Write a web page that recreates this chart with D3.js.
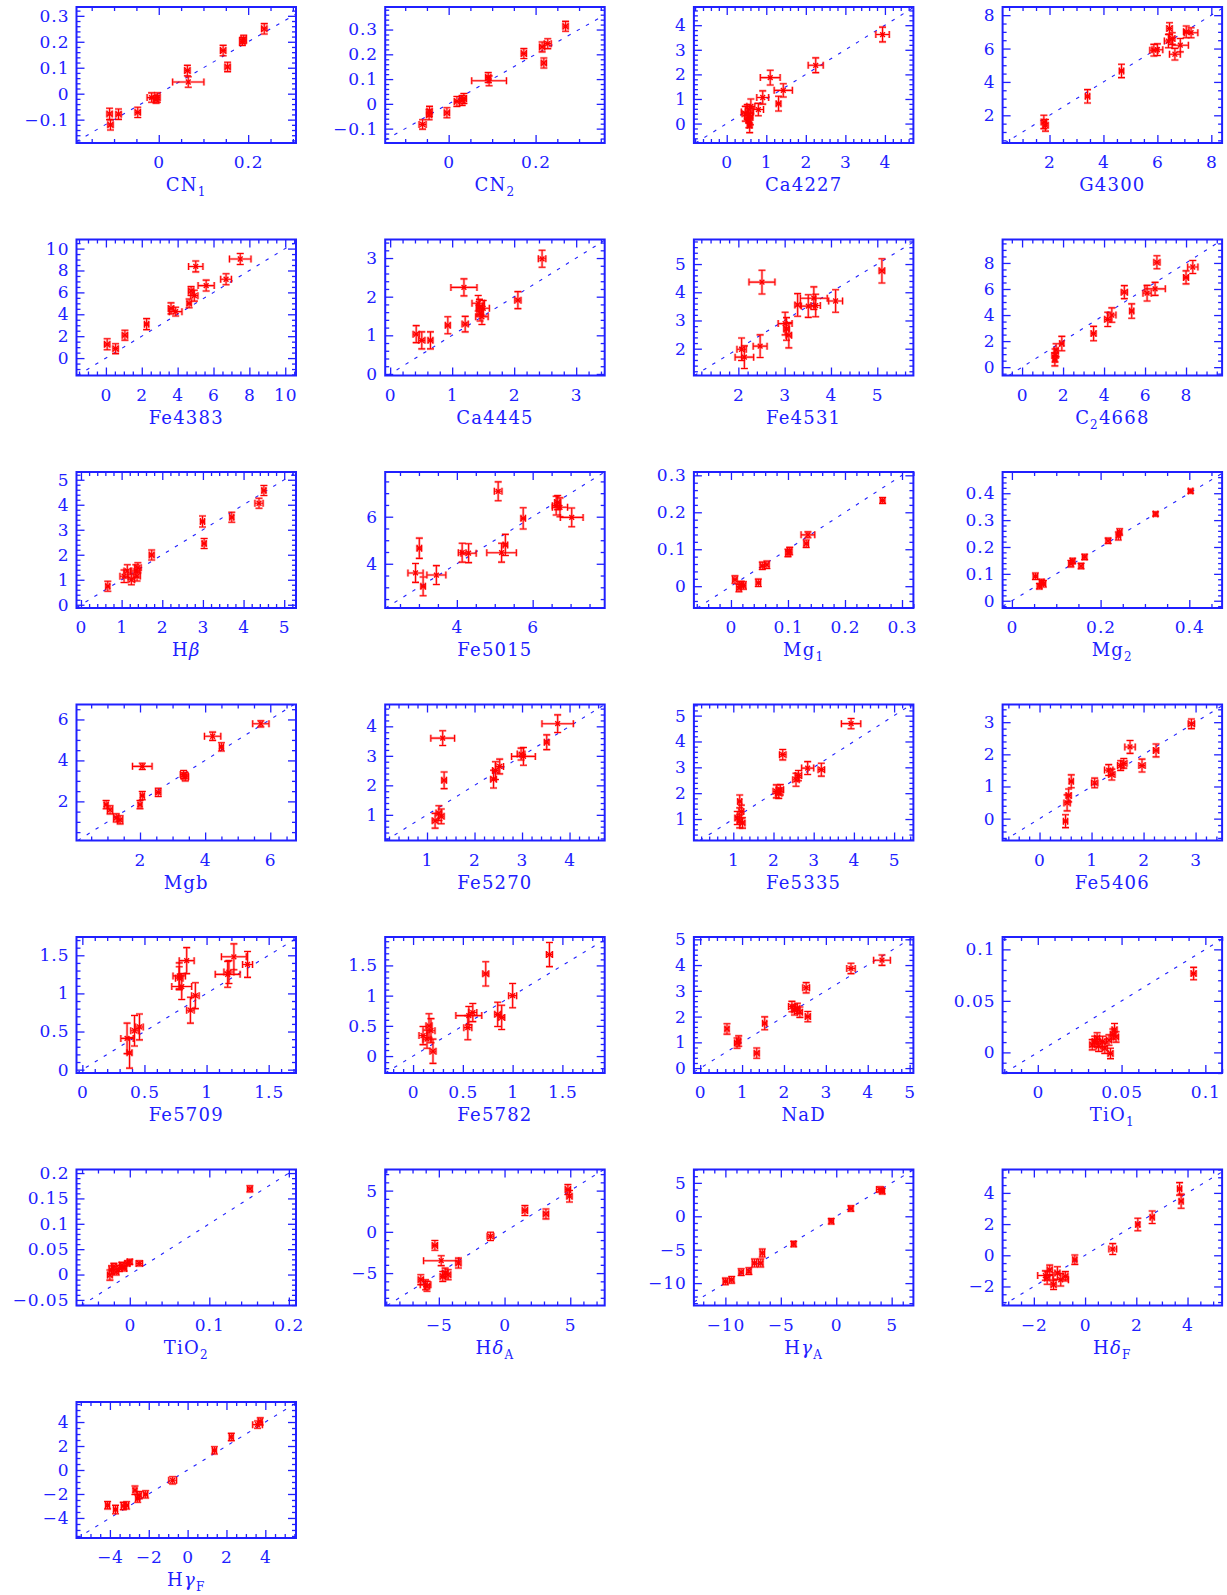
<!DOCTYPE html>
<html><head><meta charset="utf-8">
<script src="https://cdn.jsdelivr.net/npm/d3@7"></script>
<style>body{margin:0;background:#fff} svg{display:block}</style>
</head><body><svg id="c" width="1227" height="1595"></svg>
<script>
// ---- data: each point is [x, y, xerr, yerr] ----
const CN1 = [[-0.110,-0.078,0.006,0.022],[-0.108,-0.120,0.006,0.02],[-0.090,-0.079,0.006,0.02],[-0.047,-0.072,0.006,0.02],[-0.016,-0.015,0.01,0.018],[-0.003,-0.015,0.006,0.018],[-0.006,-0.022,0.006,0.015],[0.064,0.089,0.006,0.02],[0.066,0.045,0.035,0.02],[0.144,0.166,0.006,0.02],[0.154,0.103,0.006,0.018],[0.187,0.201,0.006,0.015],[0.190,0.210,0.006,0.015],[0.236,0.250,0.006,0.02]];
const CN2 = [[-0.060,-0.083,0.008,0.019],[-0.045,-0.044,0.006,0.02],[-0.044,-0.030,0.006,0.02],[-0.004,-0.036,0.006,0.02],[0.019,0.010,0.006,0.02],[0.031,0.014,0.006,0.02],[0.035,0.022,0.006,0.02],[0.091,0.106,0.006,0.02],[0.093,0.093,0.04,0.02],[0.173,0.203,0.006,0.02],[0.215,0.230,0.006,0.02],[0.219,0.165,0.006,0.02],[0.228,0.243,0.008,0.02],[0.269,0.313,0.006,0.02]];
const Ca4227 = [[3.94,3.62,0.17,0.3],[2.25,2.37,0.19,0.3],[1.10,1.87,0.25,0.3],[1.43,1.35,0.23,0.27],[1.31,0.81,0.06,0.3],[0.91,1.06,0.15,0.27],[0.80,0.57,0.13,0.25],[0.61,0.70,0.1,0.3],[0.52,0.47,0.15,0.3],[0.55,0.33,0.1,0.3],[0.56,0.13,0.06,0.3],[0.58,-0.07,0.06,0.3],[0.60,0.25,0.06,0.3],[0.47,0.40,0.08,0.3]];
const G4300 = [[1.79,1.60,0.1,0.4],[1.85,1.40,0.1,0.35],[3.41,3.14,0.08,0.4],[4.67,4.66,0.08,0.4],[5.87,5.90,0.15,0.35],[6.00,5.93,0.2,0.35],[6.45,7.20,0.1,0.35],[6.41,6.45,0.15,0.4],[6.55,6.60,0.1,0.35],[6.65,5.66,0.2,0.35],[6.85,6.20,0.3,0.4],[7.07,7.00,0.1,0.35],[7.25,6.95,0.25,0.3]];
const Fe4383 = [[0.07,1.26,0.15,0.5],[0.54,0.86,0.15,0.45],[1.06,2.09,0.15,0.45],[2.27,3.10,0.12,0.5],[3.63,4.54,0.15,0.5],[3.89,4.24,0.35,0.4],[4.64,5.00,0.12,0.4],[4.75,6.13,0.15,0.4],[4.93,5.70,0.2,0.5],[5.01,8.37,0.4,0.5],[5.59,6.62,0.45,0.5],[6.70,7.20,0.3,0.5],[7.49,9.05,0.6,0.5]];
const Ca4445 = [[0.42,1.03,0.05,0.22],[0.51,0.87,0.05,0.22],[0.65,0.87,0.04,0.22],[0.93,1.26,0.04,0.22],[1.21,1.29,0.05,0.2],[1.19,2.24,0.21,0.22],[1.42,1.83,0.1,0.2],[1.44,1.73,0.05,0.2],[1.45,1.57,0.05,0.2],[1.48,1.48,0.1,0.2],[1.50,1.70,0.1,0.2],[2.06,1.91,0.05,0.22],[2.45,2.98,0.06,0.22]];
const Fe4531 = [[2.51,4.36,0.28,0.42],[2.07,1.98,0.1,0.4],[2.13,1.70,0.2,0.4],[2.47,2.09,0.15,0.4],[3.01,2.89,0.15,0.4],[3.04,2.70,0.06,0.4],[3.09,2.48,0.06,0.45],[3.28,3.55,0.06,0.4],[3.51,3.51,0.15,0.4],[3.63,3.79,0.29,0.4],[3.67,3.53,0.1,0.4],[4.10,3.69,0.15,0.4],[5.10,4.76,0.06,0.43]];
const C24668 = [[1.61,0.90,0.15,0.5],[1.66,1.30,0.1,0.5],[1.60,0.60,0.1,0.5],[1.94,1.81,0.1,0.55],[3.49,2.58,0.12,0.55],[4.18,3.67,0.15,0.55],[4.38,4.00,0.2,0.55],[4.99,5.76,0.15,0.5],[5.35,4.31,0.1,0.55],[6.10,5.68,0.2,0.6],[6.49,6.01,0.5,0.5],[6.58,8.05,0.15,0.5],[8.00,6.89,0.12,0.5],[8.33,7.69,0.25,0.5]];
const Hbeta = [[0.66,0.74,0.05,0.2],[1.06,1.14,0.1,0.25],[1.14,1.35,0.08,0.25],[1.24,1.00,0.08,0.2],[1.35,1.35,0.1,0.25],[1.40,1.48,0.08,0.2],[1.38,1.15,0.08,0.2],[1.74,1.99,0.06,0.2],[2.99,3.33,0.05,0.22],[3.03,2.45,0.05,0.2],[3.71,3.50,0.05,0.2],[4.38,4.06,0.1,0.2],[4.50,4.57,0.05,0.2]];
const Fe5015 = [[3.01,4.66,0.06,0.43],[2.91,3.61,0.2,0.4],[3.11,3.04,0.06,0.4],[3.46,3.52,0.25,0.4],[4.14,4.47,0.1,0.4],[4.31,4.45,0.2,0.4],[5.09,7.08,0.1,0.4],[5.18,4.47,0.39,0.4],[5.28,4.80,0.06,0.45],[5.75,5.93,0.06,0.45],[6.62,6.47,0.1,0.4],[6.72,6.40,0.2,0.4],[7.03,5.97,0.3,0.4],[6.66,6.60,0.08,0.3]];
const Mg1 = [[0.007,0.018,0.004,0.01],[0.014,-0.005,0.004,0.01],[0.022,0.002,0.004,0.01],[0.018,0.005,0.004,0.008],[0.048,0.009,0.004,0.01],[0.055,0.055,0.004,0.01],[0.063,0.058,0.004,0.01],[0.103,0.095,0.004,0.01],[0.100,0.090,0.004,0.01],[0.132,0.115,0.004,0.01],[0.135,0.139,0.012,0.008],[0.266,0.232,0.004,0.008]];
const Mg2 = [[0.053,0.091,0.005,0.012],[0.062,0.054,0.005,0.01],[0.071,0.063,0.005,0.012],[0.067,0.070,0.005,0.01],[0.133,0.138,0.005,0.012],[0.137,0.148,0.005,0.01],[0.156,0.129,0.005,0.01],[0.164,0.163,0.005,0.01],[0.217,0.223,0.005,0.01],[0.240,0.241,0.005,0.015],[0.243,0.256,0.005,0.012],[0.324,0.323,0.005,0.008],[0.403,0.408,0.005,0.008]];
const Mgb = [[0.96,1.84,0.06,0.2],[1.08,1.59,0.08,0.2],[1.27,1.19,0.08,0.2],[1.39,1.10,0.08,0.2],[2.00,1.84,0.06,0.2],[2.07,2.28,0.06,0.2],[2.07,3.71,0.3,0.15],[2.56,2.44,0.08,0.2],[3.34,3.31,0.1,0.2],[3.39,3.20,0.1,0.2],[4.23,5.18,0.25,0.2],[4.50,4.66,0.06,0.2],[5.71,5.79,0.25,0.15]];
const Fe5270 = [[1.17,0.80,0.06,0.25],[1.25,1.06,0.06,0.25],[1.30,0.95,0.06,0.25],[1.33,3.60,0.25,0.25],[1.36,2.17,0.05,0.28],[2.40,2.21,0.06,0.3],[2.44,2.50,0.06,0.3],[2.53,2.64,0.08,0.25],[3.03,2.98,0.25,0.3],[2.98,3.06,0.08,0.2],[3.52,3.46,0.05,0.25],[3.75,4.09,0.33,0.3]];
const Fe5335 = [[1.10,1.04,0.06,0.25],[1.16,0.91,0.06,0.25],[1.20,1.29,0.06,0.25],[1.16,1.68,0.05,0.25],[1.23,0.85,0.06,0.2],[2.07,2.07,0.08,0.25],[2.17,2.13,0.08,0.2],[2.13,2.00,0.08,0.2],[2.23,3.49,0.08,0.2],[2.56,2.52,0.08,0.25],[2.62,2.68,0.08,0.2],[2.85,2.97,0.15,0.25],[3.19,2.91,0.08,0.25],[3.93,4.69,0.24,0.2]];
const Fe5406 = [[0.50,-0.08,0.04,0.2],[0.53,0.49,0.06,0.25],[0.56,0.72,0.05,0.2],[0.61,1.16,0.04,0.2],[1.06,1.11,0.06,0.15],[1.33,1.51,0.08,0.17],[1.39,1.37,0.06,0.17],[1.56,1.65,0.06,0.15],[1.62,1.72,0.06,0.15],[1.74,2.23,0.1,0.2],[1.97,1.65,0.06,0.2],[2.24,2.12,0.05,0.2],[2.92,2.95,0.06,0.15]];
const Fe5709 = [[0.36,0.41,0.05,0.2],[0.38,0.22,0.02,0.2],[0.42,0.51,0.03,0.2],[0.46,0.56,0.03,0.17],[0.78,1.23,0.05,0.17],[0.80,1.09,0.08,0.17],[0.78,1.20,0.03,0.15],[0.84,1.43,0.06,0.17],[0.87,0.78,0.03,0.17],[0.91,0.97,0.03,0.17],[1.17,1.25,0.1,0.17],[1.18,1.28,0.04,0.15],[1.22,1.48,0.1,0.17],[1.33,1.38,0.04,0.17]];
const Fe5782 = [[0.10,0.34,0.04,0.15],[0.14,0.28,0.04,0.15],[0.18,0.42,0.04,0.2],[0.20,0.08,0.03,0.2],[0.16,0.50,0.03,0.2],[0.55,0.47,0.04,0.2],[0.56,0.67,0.13,0.15],[0.60,0.72,0.04,0.15],[0.73,1.36,0.03,0.2],[0.85,0.69,0.03,0.2],[0.89,0.64,0.03,0.2],[1.00,1.00,0.04,0.2],[1.37,1.68,0.03,0.2]];
const NaD = [[0.64,1.52,0.05,0.2],[0.88,0.97,0.06,0.2],[0.92,1.05,0.05,0.2],[1.35,0.58,0.06,0.2],[1.54,1.74,0.05,0.25],[2.19,2.39,0.08,0.2],[2.25,2.26,0.06,0.2],[2.32,2.32,0.06,0.2],[2.38,2.17,0.06,0.2],[2.53,3.12,0.08,0.2],[2.57,2.00,0.06,0.2],[3.60,3.87,0.1,0.2],[4.34,4.19,0.2,0.2]];
const TiO1 = [[0.0325,0.0074,0.0015,0.005],[0.0340,0.0106,0.0015,0.005],[0.0354,0.0140,0.0015,0.005],[0.0363,0.0060,0.0015,0.005],[0.0387,0.0106,0.0015,0.005],[0.0400,0.0040,0.0015,0.005],[0.0425,0.0120,0.0015,0.005],[0.0434,-0.0010,0.0015,0.005],[0.0448,0.0177,0.0015,0.005],[0.0458,0.0220,0.0015,0.006],[0.0467,0.0150,0.0015,0.005],[0.0930,0.0765,0.0015,0.006]];
const TiO2 = [[-0.025,-0.001,0.003,0.01],[-0.023,0.009,0.003,0.008],[-0.020,0.016,0.003,0.006],[-0.017,0.005,0.003,0.006],[-0.013,0.012,0.003,0.006],[-0.010,0.019,0.003,0.005],[-0.007,0.012,0.003,0.005],[-0.003,0.022,0.003,0.005],[0.000,0.025,0.003,0.005],[0.012,0.022,0.004,0.005],[0.151,0.169,0.003,0.006]];
const HdeltaA = [[-6.37,-5.80,0.2,0.6],[-6.01,-6.42,0.4,0.6],[-5.90,-6.60,0.2,0.6],[-5.30,-1.64,0.2,0.6],[-4.82,-3.50,1.34,0.6],[-4.70,-5.40,0.2,0.6],[-4.52,-5.00,0.2,0.6],[-4.29,-5.20,0.2,0.6],[-3.51,-3.78,0.2,0.6],[-1.07,-0.54,0.25,0.5],[1.55,2.58,0.2,0.6],[3.15,2.17,0.2,0.6],[4.82,5.13,0.2,0.6],[4.94,4.32,0.2,0.7]];
const HgammaA = [[-10.0,-9.75,0.2,0.5],[-9.43,-9.50,0.2,0.5],[-8.58,-8.35,0.2,0.5],[-7.88,-8.20,0.2,0.5],[-7.38,-7.00,0.2,0.6],[-6.81,-7.00,0.2,0.6],[-6.67,-5.50,0.2,0.6],[-3.84,-4.15,0.2,0.4],[-0.45,-0.75,0.2,0.4],[1.32,1.15,0.2,0.4],[3.94,4.00,0.3,0.4],[4.15,3.75,0.2,0.4]];
const HdeltaF = [[-1.48,-1.46,0.1,0.4],[-1.38,-0.93,0.1,0.3],[-1.23,-1.89,0.1,0.3],[-1.08,-1.14,0.1,0.4],[-0.95,-1.57,0.3,0.4],[-0.77,-1.35,0.1,0.3],[-1.55,-1.30,0.3,0.3],[-0.40,-0.28,0.08,0.3],[1.08,0.40,0.15,0.35],[2.06,1.97,0.08,0.4],[2.62,2.44,0.08,0.4],[3.69,4.26,0.08,0.4],[3.75,3.47,0.08,0.45]];
const HgammaF = [[-4.12,-2.94,0.1,0.3],[-3.71,-3.30,0.1,0.35],[-3.31,-3.00,0.1,0.3],[-3.14,-2.95,0.1,0.3],[-2.71,-1.69,0.1,0.35],[-2.57,-2.39,0.1,0.3],[-2.49,-2.10,0.1,0.3],[-2.16,-2.03,0.1,0.3],[-0.77,-0.86,0.2,0.3],[1.38,1.64,0.1,0.3],[2.25,2.75,0.1,0.3],[3.60,3.78,0.25,0.3],[3.74,4.05,0.1,0.3]];

const panelData = [CN1, CN2, Ca4227, G4300, Fe4383, Ca4445, Fe4531, C24668, Hbeta, Fe5015, Mg1, Mg2, Mgb, Fe5270, Fe5335, Fe5406, Fe5709, Fe5782, NaD, TiO1, TiO2, HdeltaA, HgammaA, HdeltaF, HgammaF];

// axis labels: [text, kind] kind: "" normal, "s" subscript, "g" greek
const axisLabels = [
 [["CN"],["1","s"]], [["CN"],["2","s"]], [["Ca4227"]], [["G4300"]],
 [["Fe4383"]], [["Ca4445"]], [["Fe4531"]], [["C"],["2","s"],["4668"]],
 [["H"],["β","g"]], [["Fe5015"]], [["Mg"],["1","s"]], [["Mg"],["2","s"]],
 [["Mgb"]], [["Fe5270"]], [["Fe5335"]], [["Fe5406"]],
 [["Fe5709"]], [["Fe5782"]], [["NaD"]], [["TiO"],["1","s"]],
 [["TiO"],["2","s"]], [["H"],["δ","g"],["A","s"]], [["H"],["γ","g"],["A","s"]], [["H"],["δ","g"],["F","s"]],
 [["H"],["γ","g"],["F","s"]]
];

const xDomains = [[-0.184,0.307],[-0.146,0.359],[-0.83,4.72],[0.26,8.4],[-1.64,10.6],[-0.08,3.46],[1.04,5.78],[-0.95,9.76],
 [-0.11,5.29],[2.11,7.9],[-0.065,0.32],[-0.021,0.474],[0.05,6.79],[0.12,4.74],[0.02,5.48],[-0.71,3.51],
 [-0.047,1.72],[-0.28,1.925],[-0.15,5.09],[-0.021,0.110],[-0.067,0.209],[-9.08,7.62],[-12.84,6.96],[-3.22,5.35],[-5.72,5.58]];
const yDomains = [[-0.19,0.334],[-0.158,0.391],[-0.79,4.74],[0.34,8.49],[-1.59,10.83],[-0.04,3.48],[1.05,5.87],[-0.64,9.8],
 [-0.13,5.31],[2.12,7.9],[-0.059,0.309],[-0.027,0.479],[0.09,6.73],[0.13,4.74],[0.17,5.43],[-0.68,3.55],
 [-0.044,1.74],[-0.28,1.97],[-0.19,5.09],[-0.02,0.112],[-0.061,0.207],[-8.93,7.56],[-13.35,7.0],[-3.22,5.5],[-5.67,5.67]];
const xTickSteps = [0.2,0.2,1,2,2,1,1,2, 1,2,0.1,0.2,2,1,1,1, 0.5,0.5,1,0.05,0.1,5,5,2,2];
const yTickSteps = [0.1,0.1,1,2,2,1,1,2, 1,2,0.1,0.1,2,1,1,1, 0.5,0.5,1,0.05,0.05,5,5,2,2];

// ---- drawing ----
const BLUE = "#2020ff", RED = "#ff0000";
const FONT = "'DejaVu Serif', serif";
const W = 219.5, H = 136, colX0 = 76.5, colDX = 308.7, rowY0 = 7, rowDY = 232.5;
const svg = d3.select("#c");

function majorTicks(dom, step) {
  const a = Math.ceil(dom[0]/step - 1e-9), b = Math.floor(dom[1]/step + 1e-9);
  return d3.range(a, b+1).map(k => +(k*step).toFixed(10));
}
function minorTicks(dom, step) {
  const lead = Math.round(step / Math.pow(10, Math.floor(Math.log10(step)+1e-9)));
  const n = lead === 2 ? 4 : 5;
  const ms = step / n;
  const a = Math.ceil(dom[0]/ms - 1e-9), b = Math.floor(dom[1]/ms + 1e-9);
  return d3.range(a, b+1).filter(k => k % n !== 0).map(k => +(k*ms).toFixed(10));
}
function fmt(step) {
  const dec = Math.max(0, Math.ceil(-Math.log10(step) - 1e-9));
  const f = d3.format(`.${dec}~f`);
  return v => f(Math.abs(v) < 1e-12 ? 0 : v);
}
function styleAxis(g) {
  g.select(".domain").remove();
  g.selectAll(".tick line").attr("stroke", BLUE).attr("stroke-width", 1.3);
  g.selectAll(".tick text").attr("fill", BLUE).style("font-family", FONT).style("font-size", "17px").style("letter-spacing", "1px");
}

panelData.forEach((data, i) => {
  const r = Math.floor(i/4), c = i % 4;
  const g = svg.append("g").attr("transform", `translate(${colX0 + c*colDX},${rowY0 + r*rowDY})`);
  const xd = xDomains[i], yd = yDomains[i];
  const x = d3.scaleLinear().domain(xd).range([0, W]);
  const y = d3.scaleLinear().domain(yd).range([H, 0]);
  const xs = xTickSteps[i], ys = yTickSteps[i];

  const clipId = "clip" + i;
  g.append("clipPath").attr("id", clipId).append("rect").attr("width", W).attr("height", H);

  // minor ticks
  const xm = minorTicks(xd, xs), ym = minorTicks(yd, ys);
  g.append("g").attr("transform", `translate(0,${H})`).call(d3.axisBottom(x).tickValues(xm).tickSize(-4).tickFormat("")).call(styleAxis);
  g.append("g").call(d3.axisTop(x).tickValues(xm).tickSize(-4).tickFormat("")).call(styleAxis);
  g.append("g").call(d3.axisLeft(y).tickValues(ym).tickSize(-4).tickFormat("")).call(styleAxis);
  g.append("g").attr("transform", `translate(${W},0)`).call(d3.axisRight(y).tickValues(ym).tickSize(-4).tickFormat("")).call(styleAxis);
  // major ticks
  const xM = majorTicks(xd, xs), yM = majorTicks(yd, ys);
  g.append("g").attr("transform", `translate(0,${H})`).call(d3.axisBottom(x).tickValues(xM).tickSize(-8).tickPadding(13).tickFormat(fmt(xs))).call(styleAxis);
  g.append("g").call(d3.axisTop(x).tickValues(xM).tickSize(-8).tickFormat("")).call(styleAxis);
  g.append("g").call(d3.axisLeft(y).tickValues(yM).tickSize(-8).tickPadding(7).tickFormat(fmt(ys))).call(styleAxis);
  g.append("g").attr("transform", `translate(${W},0)`).call(d3.axisRight(y).tickValues(yM).tickSize(-8).tickFormat("")).call(styleAxis);

  // 1:1 line
  const lo = Math.max(xd[0], yd[0]), hi = Math.min(xd[1], yd[1]);
  g.append("line").attr("clip-path", `url(#${clipId})`)
    .attr("x1", x(lo)).attr("y1", y(lo)).attr("x2", x(hi)).attr("y2", y(hi))
    .attr("stroke", BLUE).attr("stroke-width", 1.1).attr("stroke-dasharray", "3.5,7");

  // points with error bars
  const pts = g.append("g").attr("stroke", RED).attr("fill", "none");
  const cap = 3.5, mk = 2.4;
  data.forEach(d => {
    const px = x(d[0]), py = y(d[1]);
    const x0 = x(d[0]-d[2]), x1 = x(d[0]+d[2]), y0 = y(d[1]-d[3]), y1 = y(d[1]+d[3]);
    const path = d3.path();
    path.moveTo(px, y0); path.lineTo(px, y1);
    path.moveTo(px-cap, y0); path.lineTo(px+cap, y0);
    path.moveTo(px-cap, y1); path.lineTo(px+cap, y1);
    path.moveTo(x0, py); path.lineTo(x1, py);
    path.moveTo(x0, py-cap); path.lineTo(x0, py+cap);
    path.moveTo(x1, py-cap); path.lineTo(x1, py+cap);
    pts.append("path").attr("d", path.toString()).attr("stroke-opacity", 0.3).attr("stroke-width", 2.6);
    pts.append("path").attr("d", path.toString()).attr("stroke-width", 1.1);
    const m = d3.path();
    m.moveTo(px-mk, py-mk); m.lineTo(px+mk, py+mk);
    m.moveTo(px-mk, py+mk); m.lineTo(px+mk, py-mk);
    pts.append("path").attr("d", m.toString()).attr("stroke-width", 1.4);
  });

  // frame
  g.append("rect").attr("width", W).attr("height", H).attr("fill", "none").attr("stroke", BLUE).attr("stroke-width", 2);

  // axis label
  const t = g.append("text").attr("x", W/2).attr("y", H + 48).attr("text-anchor", "middle")
    .attr("fill", BLUE).style("font-family", FONT).style("font-size", "18px").style("letter-spacing", "1.2px");
  let shifted = false;
  axisLabels[i].forEach(([s, kind]) => {
    const ts = t.append("tspan").text(s);
    if (kind === "s") { ts.attr("font-size", "12px").attr("dy", shifted ? 0 : 5); shifted = true; }
    else {
      if (shifted) { ts.attr("dy", -5); shifted = false; }
      if (kind === "g") ts.attr("font-style", "italic");
    }
  });
});
</script>
</body></html>
